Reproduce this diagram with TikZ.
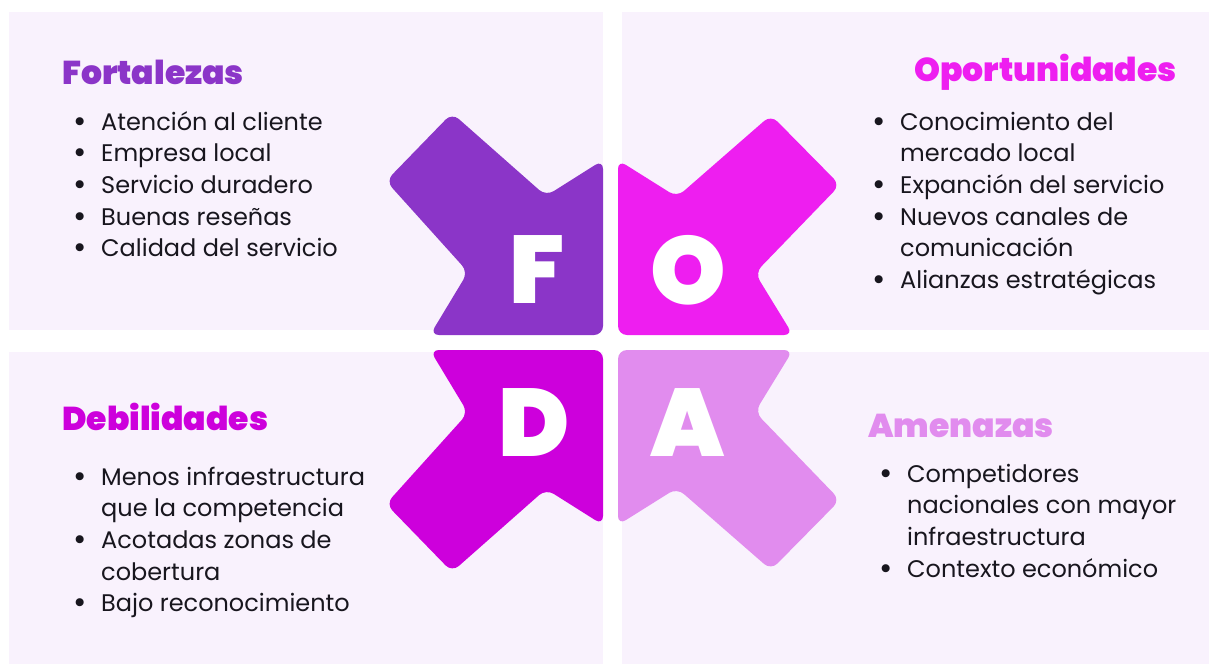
\documentclass[tikz,border=0pt]{standalone}
\usepackage{fontspec}
\setmainfont{Poppins}
\newfontfamily\heavy{Poppins Black}
\definecolor{panelbg}{RGB}{249,242,253}
\definecolor{cF}{RGB}{139,53,200}
\definecolor{cO}{RGB}{238,30,240}
\definecolor{cD}{RGB}{205,0,220}
\definecolor{cA}{RGB}{225,140,238}
\definecolor{txt}{RGB}{24,22,30}
\newcommand{\bul}{\makebox[28pt][l]{\hspace{0.5pt}\raisebox{-2pt}{\scalebox{1.35}{•}}}}
\tikzset{
  panel/.style={fill=panelbg, draw=none},
  arrowshape/.style={rounded corners=9pt, draw=none},
  letter/.style={text=white, font=\heavy\fontsize{96}{96}\selectfont, inner sep=0pt},
  title/.style={font=\heavy\fontsize{33}{33}\selectfont, inner sep=0pt},
  itemlist/.style={text=txt, inner sep=0pt, font=\fontsize{24}{31.6}\selectfont},
}
\begin{document}
\begin{tikzpicture}[x=1pt,y=-1pt]
\useasboundingbox (0,0) rectangle (1209,664);
\fill[white] (0,0) rectangle (1209,664);
% panels
\fill[panel] (9,12) rectangle (603,330);
\fill[panel] (622,12) rectangle (1209,330);
\fill[panel] (9,352) rectangle (603,664);
\fill[panel] (622,352) rectangle (1209,664);
% arrows
\fill[arrowshape, cF] (603,335) -- (603,160) -- (546,196) -- (452,113) -- (386,181) -- (468,272) -- (430,335) -- cycle;
\fill[arrowshape, cO] (618,335) -- (618,160) -- (677,197) -- (771,115) -- (840,185) -- (755,273) -- (793,335) -- cycle;
\fill[arrowshape, cD] (603,350) -- (603,525) -- (546,489) -- (452,572) -- (386,504) -- (468,413) -- (430,350) -- cycle;
\fill[arrowshape, cA] (618,350) -- (618,525) -- (677,488) -- (771,570) -- (840,500) -- (755,412) -- (793,350) -- cycle;
% letters
\node[letter] (lF) at (537,270) {F};
\node[letter] (lO) at (688,270) {O};
\node[letter] (lD) at (534,423) {D};
\node[letter] (lA) at (688,423) {A};
% titles
\node[title, text=cF, anchor=west] (tF) at (62,72) {Fortalezas};
\node[title, text=cO, anchor=east] (tO) at (1177,72) {Oportunidades};
\node[title, text=cD, anchor=west] (tD) at (62,417) {Debilidades};
\node[title, text=cA, anchor=west] (tA) at (868,426) {Amenazas};
% lists
\node[itemlist, anchor=north west] (lstF) at (73,108) {\begin{tabular}{@{}l@{}}
\bul Atención al cliente\\
\bul Empresa local\\
\bul Servicio duradero\\
\bul Buenas reseñas\\
\bul Calidad del servicio
\end{tabular}};
\node[itemlist, anchor=north west] (lstO) at (872,108) {\begin{tabular}{@{}l@{}}
\bul Conocimiento del\\
\hspace{28pt}mercado local\\
\bul Expanción del servicio\\
\bul Nuevos canales de\\
\hspace{28pt}comunicación\\
\bul Alianzas estratégicas
\end{tabular}};
\node[itemlist, anchor=north west] (lstD) at (73,463) {\begin{tabular}{@{}l@{}}
\bul Menos infraestructura\\
\hspace{28pt}que la competencia\\
\bul Acotadas zonas de\\
\hspace{28pt}cobertura\\
\bul Bajo reconocimiento
\end{tabular}};
\node[itemlist, anchor=north west] (lstA) at (879,460) {\begin{tabular}{@{}l@{}}
\bul Competidores\\
\hspace{28pt}nacionales con mayor\\
\hspace{28pt}infraestructura\\
\bul Contexto económico
\end{tabular}};
\end{tikzpicture}
\end{document}
